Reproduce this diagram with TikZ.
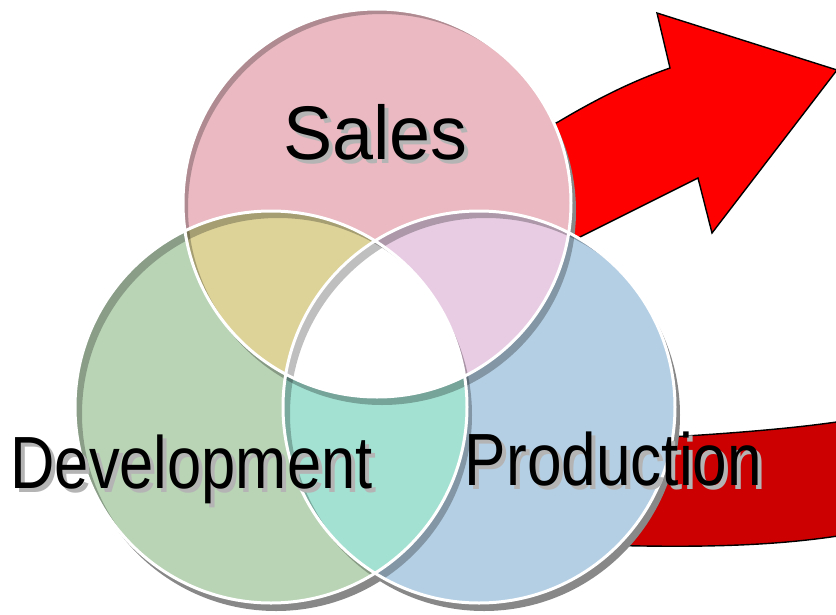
\documentclass[tikz,border=0pt]{standalone}
\usepackage{fontspec}
\setmainfont{Liberation Sans}
\definecolor{salesC}{HTML}{EAB9C1}
\definecolor{devC}{HTML}{B9D4B5}
\definecolor{prodC}{HTML}{B4CFE4}
\definecolor{sdC}{HTML}{DDD399}
\definecolor{spC}{HTML}{E8CCE4}
\definecolor{dpC}{HTML}{A3E2D3}
\definecolor{shadowC}{HTML}{888888}
\definecolor{txtShadowC}{HTML}{B4B4B4}
\definecolor{arrowTopC}{HTML}{FF0000}
\definecolor{arrowLowC}{HTML}{CC0000}
\newcommand\SalesC[2]{(377+#1,203+#2) circle[radius=194]}
\newcommand\DevC[2]{(271+#1,407+#2) circle[radius=196]}
\newcommand\ProdC[2]{(479+#1,407+#2) circle[radius=196]}
\newcommand\BigRect{(-100,-100) rectangle (1000,800)}
\begin{document}
\begin{tikzpicture}[x=1pt,y=-1pt,
  arrowbody/.style={draw=black, line width=1.4pt, line join=miter},
  outershadow/.style={fill=shadowC},
  castshadow/.style={fill=black, fill opacity=0.27},
  innerband/.style={fill=black, fill opacity=0.25},
  rim/.style={draw=white, line width=3pt},
  lbl/.style={inner sep=0pt, anchor=base, font=\fontsize{74}{80}\selectfont},
  lblshadow/.style={lbl, text=txtShadowC}]
\useasboundingbox (0,0) rectangle (836,614);
\begin{scope}
\clip (0,0) rectangle (836,614);
% ---- red arrow (behind the circles)
\path[arrowbody, fill=arrowLowC]
  (600,441) .. controls (690,436) and (780,431) .. (850,420)
  -- (850,534) .. controls (780,546) and (700,548) .. (600,545) -- cycle;
\path[arrowbody, fill=arrowTopC]
  (540,131) -- (558,122) .. controls (595,100) and (630,82) .. (670,68)
  -- (657,13) -- (837,70) -- (712,233) -- (698,178)
  .. controls (660,197) and (620,217) .. (578,238) -- (545,254) -- cycle;
% ---- outer shadows
\fill[outershadow] \SalesC{5}{8};
\fill[outershadow] \DevC{5}{8};
\fill[outershadow] \ProdC{5}{8};
% ---- base fills
\fill[salesC] \SalesC{0}{0};
\fill[devC] \DevC{0}{0};
\fill[prodC] \ProdC{0}{0};
% ---- intersections
\begin{scope}\clip \SalesC{0}{0}; \fill[sdC] \DevC{0}{0};\end{scope}
\begin{scope}\clip \SalesC{0}{0}; \fill[spC] \ProdC{0}{0};\end{scope}
\begin{scope}\clip \DevC{0}{0}; \fill[dpC] \ProdC{0}{0};\end{scope}
\begin{scope}\clip \SalesC{0}{0}; \clip \DevC{0}{0}; \fill[white] \ProdC{0}{0};\end{scope}
% ---- shadows cast on the other circles
\begin{scope}[even odd rule]
  \clip \BigRect \SalesC{0}{0};
  \begin{scope}[nonzero rule]
  \clip \DevC{0}{0} \ProdC{0}{0};
  \fill[castshadow] \SalesC{5}{8};
  \end{scope}
\end{scope}
\begin{scope}[even odd rule]
  \clip \BigRect \DevC{0}{0};
  \begin{scope}[nonzero rule]
  \clip \SalesC{0}{0} \ProdC{0}{0};
  \fill[castshadow] \DevC{5}{8};
  \end{scope}
\end{scope}
\begin{scope}[even odd rule]
  \clip \BigRect \ProdC{0}{0};
  \begin{scope}[nonzero rule]
  \clip \SalesC{0}{0} \DevC{0}{0};
  \fill[castshadow] \ProdC{5}{8};
  \end{scope}
\end{scope}
% ---- inner bands (top-left)
\begin{scope}
  \clip \SalesC{0}{0};
  \begin{scope}[even odd rule]
  \clip \BigRect \SalesC{5}{5};
  \fill[innerband] \SalesC{0}{0};
  \end{scope}
\end{scope}
\begin{scope}
  \clip \DevC{0}{0};
  \begin{scope}[even odd rule]
  \clip \BigRect \DevC{7}{7};
  \fill[innerband] \DevC{0}{0};
  \end{scope}
\end{scope}
\begin{scope}
  \clip \ProdC{0}{0};
  \begin{scope}[even odd rule]
  \clip \BigRect \ProdC{7}{7};
  \fill[innerband] \ProdC{0}{0};
  \end{scope}
\end{scope}
% ---- white rims
\draw[rim] \SalesC{0}{0};
\draw[rim] \DevC{0}{0};
\draw[rim] \ProdC{0}{0};
\end{scope}
% ---- labels
\node[lblshadow, font=\fontsize{76}{80}\selectfont] (salesShadow) at (379.5,163) {\scalebox{0.97}[1]{Sales}};
\node[lbl, font=\fontsize{76}{80}\selectfont] (salesLbl) at (375.5,159) {\scalebox{0.97}[1]{Sales}};
\node[lblshadow] (devShadow) at (195.5,492) {\scalebox{0.83}[1]{Development}};
\node[lbl] (devLbl) at (191.5,488) {\scalebox{0.83}[1]{Development}};
\node[lblshadow] (prodShadow) at (617.5,489) {\scalebox{0.84}[1]{Production}};
\node[lbl] (prodLbl) at (613.5,485) {\scalebox{0.84}[1]{Production}};
\end{tikzpicture}
\end{document}
